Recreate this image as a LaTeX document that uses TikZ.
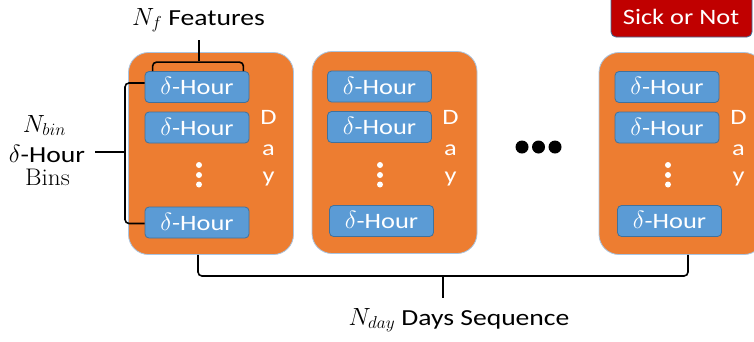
\documentclass[tikz,border=0pt]{standalone}
\usepackage{fontspec}
\setmainfont{Carlito}[FakeStretch=1.2]
\newfontfamily\serifface{Latin Modern Roman}[FakeStretch=1.05]
\definecolor{dayfill}{HTML}{ED7D31}
\definecolor{dayline}{HTML}{A9C4E0}
\definecolor{binfill}{HTML}{5B9BD5}
\definecolor{binline}{HTML}{41719C}
\definecolor{outfill}{HTML}{C00000}
\tikzset{
  daybox/.style={draw=dayline, line width=0.8pt, fill=dayfill, rounded corners=20pt,
    minimum width=165pt, minimum height=202pt, inner sep=0pt},
  binbox/.style={draw=binline, line width=0.8pt, fill=binfill, rounded corners=4pt,
    minimum width=104pt, minimum height=31pt, inner sep=0pt},
  bintext/.style={text=white, font=\fontsize{22}{24}\selectfont, anchor=base, inner sep=0pt},
  dayletter/.style={text=white, font=\fontsize{22}{24}\selectfont, anchor=base, inner sep=0pt},
  vdot/.style={fill=white, draw=none, circle, minimum size=6pt, inner sep=0pt},
  hdot/.style={fill=black, draw=none, circle, minimum size=13pt, inner sep=0pt},
  bracket/.style={draw=black, line width=1.6pt, rounded corners=4pt},
  label/.style={text=black, font=\fontsize{23}{24}\selectfont, anchor=base, inner sep=0pt}
}
\newcommand\mathbig[1]{{\fontsize{25}{26}\selectfont$#1$}}
\newcommand\dhour{\mathbig{\delta}-Hour}
% a bin box with its label, baseline 7.5pt below the box centre
\newcommand\binat[3]{%
  \node[binbox] (#1) at (#2,#3) {};
  \node[bintext] (#1t) at ([yshift=-7.5pt]#1.center) {\dhour};
}
\newcommand\dayword[3]{%
  \node[dayletter] (#1D) at (#2,#3) {D};
  \node[dayletter] (#1a) at (#2,#3+31) {a};
  \node[dayletter] (#1y) at (#2,#3+58) {y};
}
\begin{document}
\begin{tikzpicture}[x=1pt, y=-1pt]
\useasboundingbox (0,0) rectangle (754,341);
\clip (0,0) rectangle (754,341);

% output box
\node[draw=binline, line width=0.8pt, fill=outfill, rounded corners=5pt,
  minimum width=141pt, minimum height=52pt, inner sep=0pt] (out) at (681.5,11) {};
\node[text=white, font=\fontsize{22}{24}\selectfont, anchor=base, inner sep=0pt]
  (outtext) at (681,24) {Sick or Not};

% day 1
\node[daybox] (d1) at (211,153.5) {};
\binat{b11}{197}{87}
\binat{b12}{197}{127.5}
\binat{b13}{197}{222.5}
\node[vdot] (v11) at (199,165) {};
\node[vdot] (v12) at (199,175) {};
\node[vdot] (v13) at (199,184.5) {};
\dayword{t1}{268.5}{124}

% day 2
\node[daybox] (d2) at (394.5,152.5) {};
\binat{b21}{379.5}{86.5}
\binat{b22}{379.5}{127}
\binat{b23}{381.5}{221}
\node[vdot] (v21) at (380,165) {};
\node[vdot] (v22) at (380,175) {};
\node[vdot] (v23) at (380,184.5) {};
\dayword{t2}{450.5}{124}

% ellipsis between days
\node[hdot] (e1) at (522,147) {};
\node[hdot] (e2) at (538.5,147) {};
\node[hdot] (e3) at (555,147) {};

% last day
\node[daybox] (d3) at (681.5,153.5) {};
\binat{b31}{667}{87}
\binat{b32}{667}{127.5}
\binat{b33}{669.5}{221}
\node[vdot] (v31) at (668,165) {};
\node[vdot] (v32) at (668,175) {};
\node[vdot] (v33) at (668,184.5) {};
\dayword{t3}{738.5}{124}

% feature bracket over the first bin
\coordinate (fstem) at (199,40);
\draw[bracket] ([xshift=8pt]b11.north west) -- ++(0,-9) -| ([xshift=-6pt]b11.north east);
\draw[bracket, rounded corners=0pt] (199,61) -- (fstem);
\node[label] (flabel) at (198.5,25) {\mathbig{N_f} Features};

% bin bracket on the left of day 1
\coordinate (bstem) at (95,152);
\draw[bracket] ([yshift=4pt]b11.west) -| (125,152) |- ([yshift=-1pt]b13.west);
\draw[bracket, rounded corners=0pt] (125,152) -- (bstem);
\node[label] (blabel1) at (44.5,132) {\mathbig{N_{bin}}};
\node[label] (blabel2) at (47,162) {\dhour};
\node[label, font=\serifface\fontsize{24}{24}\selectfont] (blabel3) at (47.5,185) {Bins};

% day bracket below the sequence
\coordinate (dstem) at (443,298);
\draw[bracket] (d1.south -| 198,0) -- (198,276) -- (688,276) -- (d3.south -| 688,0);
\draw[bracket, rounded corners=0pt] (443,276) -- (dstem);
\node[label] (dlabel) at (459,325) {\mathbig{N_{day}} Days Sequence};
\end{tikzpicture}
\end{document}
